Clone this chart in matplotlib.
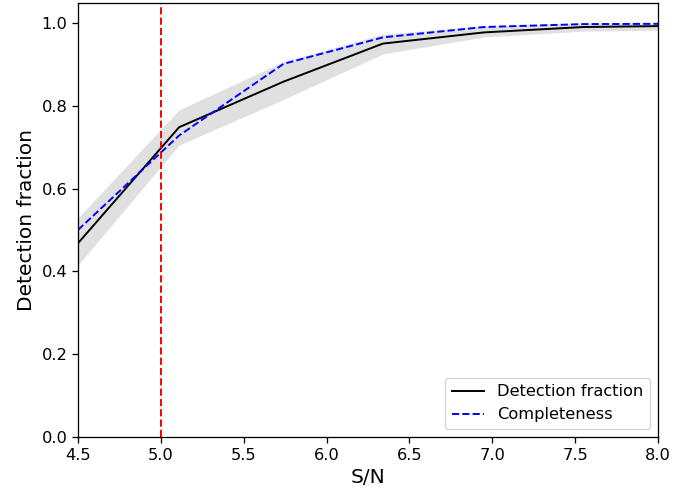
import matplotlib
matplotlib.use("Agg")
import matplotlib.pyplot as plt

snr = [4.5, 5.11, 5.74, 6.34, 6.95, 7.55, 8.16]
detection = [0.468, 0.748, 0.858, 0.950, 0.977, 0.990, 0.993]
completeness = [0.500, 0.728, 0.901, 0.965, 0.990, 0.997, 0.998]
band_low = [0.415, 0.705, 0.815, 0.925, 0.966, 0.980, 0.983]
band_high = [0.529, 0.790, 0.906, 0.973, 0.992, 1.0, 1.0]
snr_threshold = 5.0

s = 1.17
plt.rcParams.update({
    'axes.linewidth': 0.8 * s,
    'xtick.major.size': 3.5 * s, 'ytick.major.size': 3.5 * s,
    'xtick.major.width': 0.8 * s, 'ytick.major.width': 0.8 * s,
})

fig = plt.figure(figsize=(6.99, 4.9), dpi=100)
ax = fig.add_axes([78/699, 1 - 437/490, 580/699, 434/490])

ax.fill_between(snr, band_low, band_high, color='0.88', lw=0)
ax.plot(snr, detection, color='black', lw=1.4, label='Detection fraction')
ax.plot(snr, completeness, color='blue', ls='--', lw=1.4, label='Completeness')
ax.axvline(snr_threshold, color='red', ls='--', lw=1.4)

ax.set_xlim(4.5, 8.0)
ax.set_ylim(0, 1.048)
ax.set_xticks([4.5, 5.0, 5.5, 6.0, 6.5, 7.0, 7.5, 8.0])
ax.set_yticks([0.0, 0.2, 0.4, 0.6, 0.8, 1.0])
ax.tick_params(labelsize=11.7)
ax.set_xlabel('S/N', fontsize=14.5)
ax.set_ylabel('Detection fraction', fontsize=14.5)
ax.legend(loc='lower right', fontsize=11.7)

fig.savefig('out.png', dpi=100)
